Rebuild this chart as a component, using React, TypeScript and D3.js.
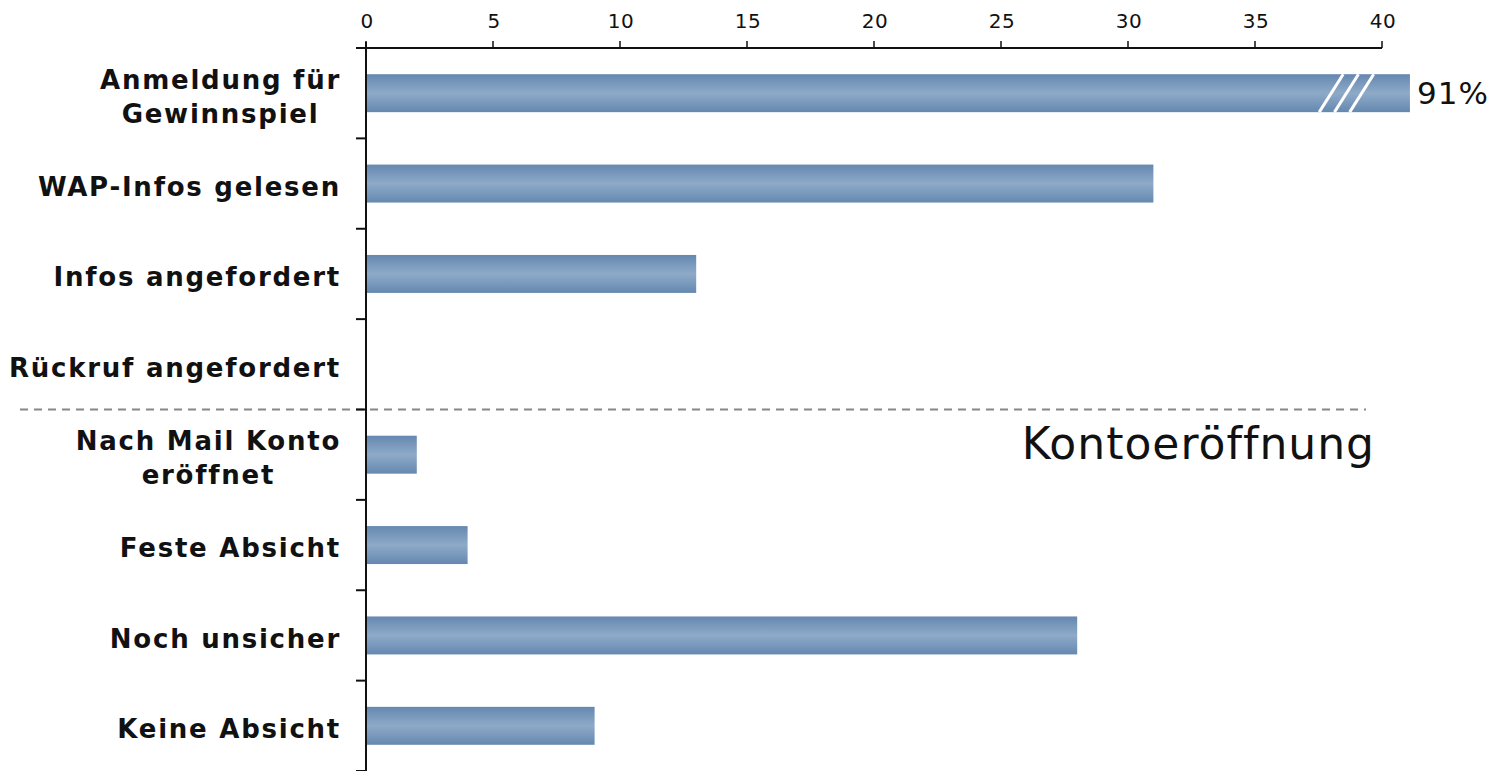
import React, { useEffect, useRef } from "react";
import * as d3 from "d3";

const categories = [
  "Anmeldung für\nGewinnspiel",
  "WAP-Infos gelesen",
  "Infos angefordert",
  "Rückruf angefordert",
  "Nach Mail Konto\neröffnet",
  "Feste Absicht",
  "Noch unsicher",
  "Keine Absicht",
];
const values = [91, 31, 13, 0, 2, 4, 28, 9];
const barLabels = ["91%", "", "", "", "", "", "", ""];
const axisMax = 40;
const brokenBarEnd = 41.1; // displayed length of the broken bar
const xTicks = [0, 5, 10, 15, 20, 25, 30, 35, 40];
const sectionLabel = "Kontoeröffnung";
const sectionAfterIndex = 3;

const W = 1500;
const H = 771;
const FONT = "DejaVu Sans, Verdana, sans-serif";

export default function App() {
  const ref = useRef<SVGSVGElement>(null);
  useEffect(() => {
    const svg = d3.select(ref.current!);
    svg.selectAll("*").remove();
    const x0 = 366, x1 = 1382, yTop = 48, yBot = 771;
    const x = d3.scaleLinear().domain([0, axisMax]).range([x0, x1]);
    const y = d3.scaleBand<number>().domain(d3.range(categories.length)).range([yTop, yBot]).paddingInner(0.58).paddingOuter(0.29);
    const step = y.step();

    const defs = svg.append("defs");
    const g = defs.append("linearGradient").attr("id", "barGrad").attr("x1", 0).attr("y1", 0).attr("x2", 0).attr("y2", 1);
    g.append("stop").attr("offset", "0%").attr("stop-color", "#6588b0");
    g.append("stop").attr("offset", "50%").attr("stop-color", "#8eaac8");
    g.append("stop").attr("offset", "100%").attr("stop-color", "#6588b0");

    // bars
    values.forEach((v, i) => {
      const len = v > axisMax ? brokenBarEnd : v;
      if (len <= 0) return;
      svg.append("rect").attr("x", x(0)).attr("y", y(i)!).attr("width", x(len) - x(0)).attr("height", y.bandwidth()).attr("fill", "url(#barGrad)");
      if (v > axisMax) {
        const yb = y(i)!, h = y.bandwidth();
        [38.0, 38.6, 39.2].forEach((b) => {
          svg.append("line").attr("x1", x(b) - 12).attr("y1", yb + h).attr("x2", x(b) + 12).attr("y2", yb)
            .attr("stroke", "white").attr("stroke-width", 3);
        });
        svg.append("text").attr("x", x(len) + 7).attr("y", yb + h / 2).attr("dy", "0.36em")
          .attr("font-family", FONT).attr("font-size", 31).attr("letter-spacing", 1).attr("fill", "#111")
          .text(barLabels[i]);
      }
    });

    // dashed separator
    const sepY = yTop + step * (sectionAfterIndex + 1);
    svg.append("line").attr("x1", 20).attr("x2", 1366).attr("y1", sepY).attr("y2", sepY)
      .attr("stroke", "#888").attr("stroke-width", 2).attr("stroke-dasharray", "8,6");
    svg.append("text").attr("x", 1375).attr("y", 459).attr("text-anchor", "end")
      .attr("font-family", FONT).attr("font-size", 44).attr("letter-spacing", 1).attr("fill", "#111")
      .text(sectionLabel);

    // axes
    svg.append("line").attr("x1", 356).attr("x2", x1).attr("y1", yTop).attr("y2", yTop).attr("stroke", "#111").attr("stroke-width", 2);
    svg.append("line").attr("x1", x0).attr("x2", x0).attr("y1", yTop - 6).attr("y2", yBot).attr("stroke", "#111").attr("stroke-width", 2);
    xTicks.forEach((t) => {
      svg.append("line").attr("x1", x(t)).attr("x2", x(t)).attr("y1", yTop - 7).attr("y2", yTop).attr("stroke", "#111").attr("stroke-width", 1.5);
      svg.append("text").attr("x", x(t) + 1).attr("y", 28).attr("text-anchor", "middle")
        .attr("font-family", FONT).attr("font-size", 20).attr("letter-spacing", 0.5).attr("fill", "#111").text(t);
    });
    for (let i = 1; i <= categories.length; i++) {
      const ty = yTop + step * i;
      svg.append("line").attr("x1", x0 - 10).attr("x2", x0).attr("y1", ty).attr("y2", ty).attr("stroke", "#111").attr("stroke-width", 2);
    }

    // category labels
    categories.forEach((c, i) => {
      const lines = c.split("\n");
      const cy = y(i)! + y.bandwidth() / 2 + 3;
      const t = svg.append("text").attr("font-family", FONT).attr("font-weight", "bold")
        .attr("font-size", 26).attr("letter-spacing", 1.75).attr("fill", "#111");
      const lh = 34;
      const spans = lines.map((l, k) => t.append("tspan").attr("y", cy + (k - (lines.length - 1) / 2) * lh).attr("dy", "0.36em").text(l));
      const widths = spans.map((s) => (s.node() as SVGTSpanElement).getComputedTextLength());
      const maxW = Math.max(...widths);
      const right = 341;
      spans.forEach((s) => s.attr("x", right - maxW / 2).attr("text-anchor", "middle"));
    });
  }, []);
  return <svg ref={ref} width={W} height={H} style={{ display: "block", position: "absolute", left: 0, top: 0 }} />;
}
